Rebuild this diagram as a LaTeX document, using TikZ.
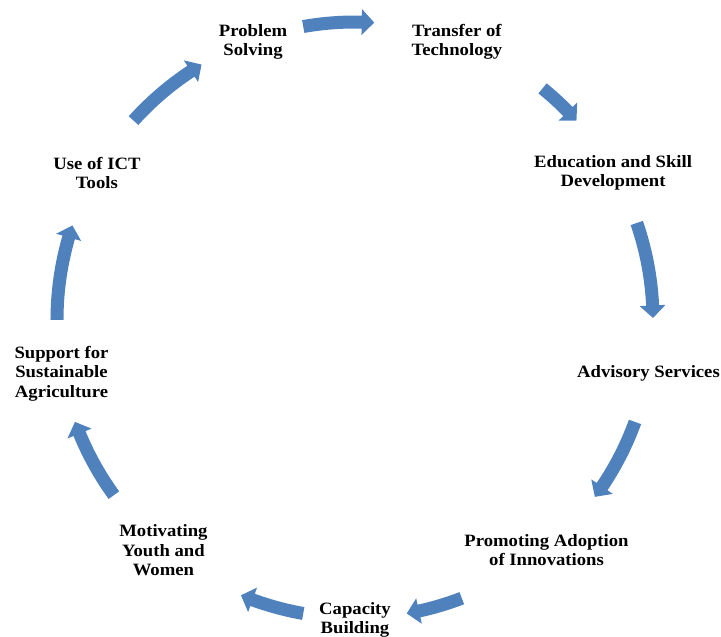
\documentclass[tikz,border=0pt]{standalone}
\usepackage{fontspec}
\setmainfont{Liberation Serif}[FakeStretch=1.08]
\definecolor{arrowblue}{HTML}{4F81BD}
\tikzset{
  lbl/.style={align=center, inner sep=0pt, text=black, yshift=-2pt,
    font=\bfseries\fontsize{17.3}{19.4}\selectfont},
  cyc/.style={fill=arrowblue, draw=none}
}
% clockwise curved block arrow on the circle, from angle #1 to tip angle #2
\newcommand{\cyclearrow}[2]{%
  \pgfmathsetmacro{\hb}{#2+2.4}%
  \fill[cyc] (#1:304.5) arc[start angle=#1, end angle=\hb, radius=304.5]
    -- (\hb:311) -- (#2:298) -- (\hb:285) -- (\hb:291.5)
    arc[start angle=\hb, end angle=#1, radius=291.5] -- cycle;}
\begin{document}
\begin{tikzpicture}[x=1pt,y=1pt]
\useasboundingbox (-355,-317) rectangle (366,320);
\node[lbl] (ps)  at (110:298) {Problem\\Solving};
\node[lbl] (tt)  at (70:298)  {Transfer of\\Technology};
\node[lbl] (ed)  at (30:298)  {Education and Skill\\Development};
\node[lbl] (as)  at (-10:298) {Advisory Services};
\node[lbl] (pa)  at (-50:298) {Promoting Adoption\\of Innovations};
\node[lbl] (cb)  at (-90:298) {Capacity\\Building};
\node[lbl] (my)  at (-130:298) {Motivating\\Youth and\\Women};
\node[lbl] (ss)  at (-170:298) {Support for\\Sustainable\\Agriculture};
\node[lbl] (ict) at (150:298) {Use of ICT\\Tools};
\cyclearrow{100}{86.3}
\cyclearrow{51}{42}
\cyclearrow{19}{0.4}
\cyclearrow{-20}{-36.4}
\cyclearrow{-69}{-80}
\cyclearrow{-100}{-112.5}
\cyclearrow{-144}{-160}
\cyclearrow{180}{161.5}
\cyclearrow{138}{121}
\end{tikzpicture}
\end{document}
